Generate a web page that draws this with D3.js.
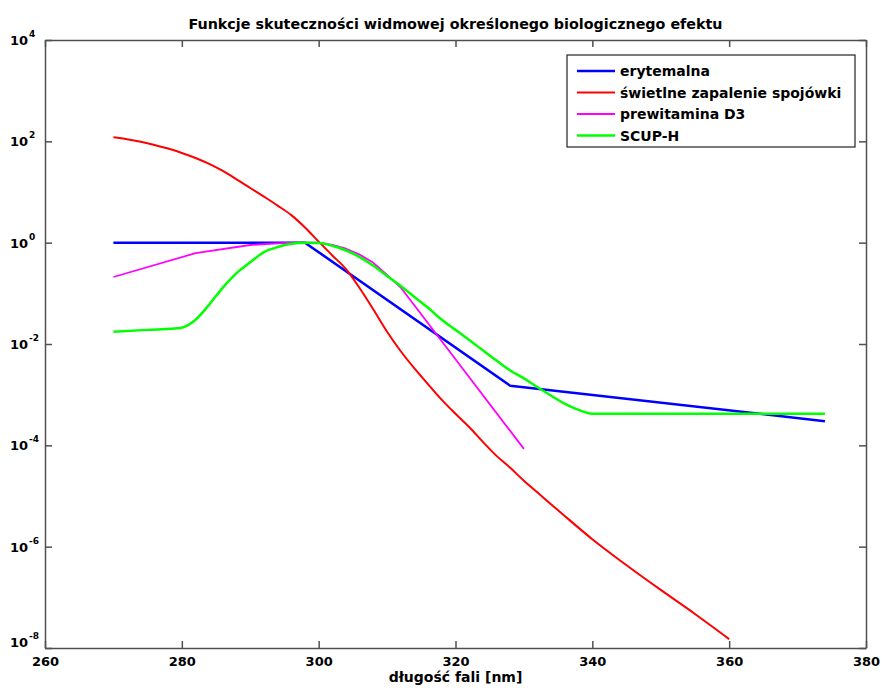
<!DOCTYPE html>
<html>
<head>
<meta charset="utf-8">
<script src="https://cdn.jsdelivr.net/npm/d3@7"></script>
<style>
body { margin: 0; background: #fff; }
text { font-family: "DejaVu Sans", sans-serif; fill: #000; font-weight: bold; }
</style>
</head>
<body>
<svg id="chart" width="882" height="688"></svg>
<script>
// labels
var title = "Funkcje skuteczności widmowej określonego biologicznego efektu";
var xLabel = "długość fali [nm]";
var xTicks = [260, 280, 300, 320, 340, 360, 380];
var yExponents = [4, 2, 0, -2, -4, -6, -8];

var seriesNames = ["erytemalna", "świetlne zapalenie spojówki", "prewitamina D3", "SCUP-H"];
var seriesColors = ["#0000ff", "#ff0000", "#ff00ff", "#00ff00"];
var seriesWidths = [2.5, 2, 1.8, 2.5];

// erytemalna
var erythemaNm = [270, 298, 328, 374];
var erythemaVal = [1, 1, 1.5e-3, 3.0e-4];

// swietlne zapalenie spojowki
var keratitisNm = [270, 272, 274, 276, 278, 280, 282, 284, 286, 288, 290, 292, 294, 296, 298, 300,
  302, 304, 306, 308, 310, 312, 314, 316, 318, 320, 322, 324, 326, 328, 330, 332, 334, 336, 338, 340,
  345, 350, 355, 360];
var keratitisVal = [120, 110, 98, 85, 72, 59, 47, 36, 26, 17.8, 12, 8.1, 5.4, 3.5, 2.0, 1.05,
  0.56, 0.3, 0.126, 0.048, 0.0175, 0.0072, 0.0033, 0.0016, 7.9e-4, 4.2e-4, 2.3e-4, 1.17e-4, 6.2e-5,
  3.6e-5, 2.0e-5, 1.17e-5, 6.8e-6, 4.0e-6, 2.35e-6, 1.4e-6, 4.3e-7, 1.4e-7, 4.7e-8, 1.5e-8];

// prewitamina D3
var previtNm = [270, 282, 290, 296, 300, 302, 304, 306, 308, 310, 312, 320, 330];
var previtVal = [0.21, 0.62, 0.9, 1.0, 1.0, 0.9, 0.76, 0.58, 0.4, 0.23, 0.13, 0.0050, 8.5e-5];

// SCUP-H
var scupNm = [270, 275, 280, 282, 284, 286, 288, 290, 292, 294, 296, 298, 300, 302, 304, 306, 308,
  310, 312, 314, 316, 318, 320, 322, 324, 326, 328, 330, 332, 334, 336, 338, 340, 374];
var scupVal = [0.0175, 0.019, 0.021, 0.03, 0.06, 0.13, 0.25, 0.41, 0.65, 0.82, 0.95, 1.0, 0.98,
  0.87, 0.7, 0.52, 0.35, 0.22, 0.14, 0.085, 0.052, 0.03, 0.019, 0.012, 0.0075, 0.0047, 0.003,
  0.0021, 0.0014, 9.5e-4, 6.6e-4, 5.0e-4, 4.2e-4, 4.2e-4];

var seriesNm = [erythemaNm, keratitisNm, previtNm, scupNm];
var seriesVal = [erythemaVal, keratitisVal, previtVal, scupVal];
// measured curves are smooth, the piecewise ones are straight
var seriesCurves = [d3.curveLinear, d3.curveMonotoneX, d3.curveLinear, d3.curveMonotoneX];

var plotLeft = 45, plotRight = 866, plotTop = 40, plotBottom = 648;
var axisColor = "#505050";

var x = d3.scaleLinear().domain([260, 380]).range([plotLeft, plotRight]);
var y = d3.scaleLog().domain([1e-8, 1e4]).range([plotBottom, plotTop]);
var yTickVals = yExponents.map(function(e) { return Math.pow(10, e); });

var svg = d3.select("#chart");

svg.append("text")
  .attr("x", (plotLeft + plotRight) / 2)
  .attr("y", 29)
  .attr("text-anchor", "middle")
  .style("font-size", "14.3px")
  .text(title);

// axes, ticks pointing inward
var gx = svg.append("g")
  .attr("transform", "translate(0," + plotBottom + ")")
  .call(d3.axisBottom(x).tickValues(xTicks).tickSizeInner(-7).tickSizeOuter(0).tickPadding(9).tickFormat(d3.format("d")));
var gxt = svg.append("g")
  .attr("transform", "translate(0," + plotTop + ")")
  .call(d3.axisTop(x).tickValues(xTicks).tickSizeInner(-7).tickSizeOuter(0).tickFormat(""));
var gy = svg.append("g")
  .attr("transform", "translate(" + plotLeft + ",0)")
  .call(d3.axisLeft(y).tickValues(yTickVals).tickSizeInner(-7).tickSizeOuter(0).tickFormat(""));
var gyr = svg.append("g")
  .attr("transform", "translate(" + plotRight + ",0)")
  .call(d3.axisRight(y).tickValues(yTickVals).tickSizeInner(-7).tickSizeOuter(0).tickFormat(""));

[gx, gxt, gy, gyr].forEach(function(g) {
  g.select(".domain").attr("stroke", axisColor).attr("stroke-width", 1.5);
  g.selectAll(".tick line").attr("stroke", axisColor).attr("stroke-width", 1.5);
});
gx.selectAll(".tick text")
  .attr("fill", "#000")
  .style("font-family", "DejaVu Sans, sans-serif")
  .style("font-weight", "bold")
  .style("font-size", "13px");

// y tick labels as 10 with superscript exponent
var ylab = svg.append("g").selectAll("text")
  .data(yExponents)
  .enter()
  .append("text")
  .attr("x", 10)
  .attr("y", function(d) { return y(Math.pow(10, d)) + 5 - (d === -8 ? 6 : 0); })
  .style("font-size", "13px");
ylab.append("tspan").text("10");
ylab.append("tspan")
  .attr("dy", -8)
  .attr("dx", 1)
  .style("font-size", "9px")
  .text(function(d) { return d; });

svg.append("text")
  .attr("x", (plotLeft + plotRight) / 2)
  .attr("y", 682)
  .attr("text-anchor", "middle")
  .style("font-size", "14px")
  .text(xLabel);

// curves
svg.append("g").selectAll("path")
  .data(seriesNm.map(function(nm, i) { return d3.zip(nm, seriesVal[i]); }))
  .enter()
  .append("path")
  .attr("d", function(d, i) {
    return d3.line()
      .x(function(p) { return x(p[0]); })
      .y(function(p) { return y(p[1]); })
      .curve(seriesCurves[i])(d);
  })
  .attr("fill", "none")
  .attr("stroke", function(d, i) { return seriesColors[i]; })
  .attr("stroke-width", function(d, i) { return seriesWidths[i]; })
  .attr("stroke-linejoin", "round");

// legend
var legend = svg.append("g");
legend.append("rect")
  .attr("x", 567).attr("y", 55)
  .attr("width", 288).attr("height", 92)
  .attr("fill", "#fff")
  .attr("stroke", "#222")
  .attr("stroke-width", 1.2);
var rows = legend.selectAll("g.row")
  .data(seriesNames)
  .enter()
  .append("g")
  .attr("transform", function(d, i) { return "translate(0," + (71 + i * 21.5) + ")"; });
rows.append("line")
  .attr("x1", 577).attr("x2", 615)
  .attr("stroke", function(d, i) { return seriesColors[i]; })
  .attr("stroke-width", function(d, i) { return seriesWidths[i]; });
rows.append("text")
  .attr("x", 620)
  .attr("y", 5)
  .style("font-size", "14px")
  .text(function(d) { return d; });
</script>
</body>
</html>
